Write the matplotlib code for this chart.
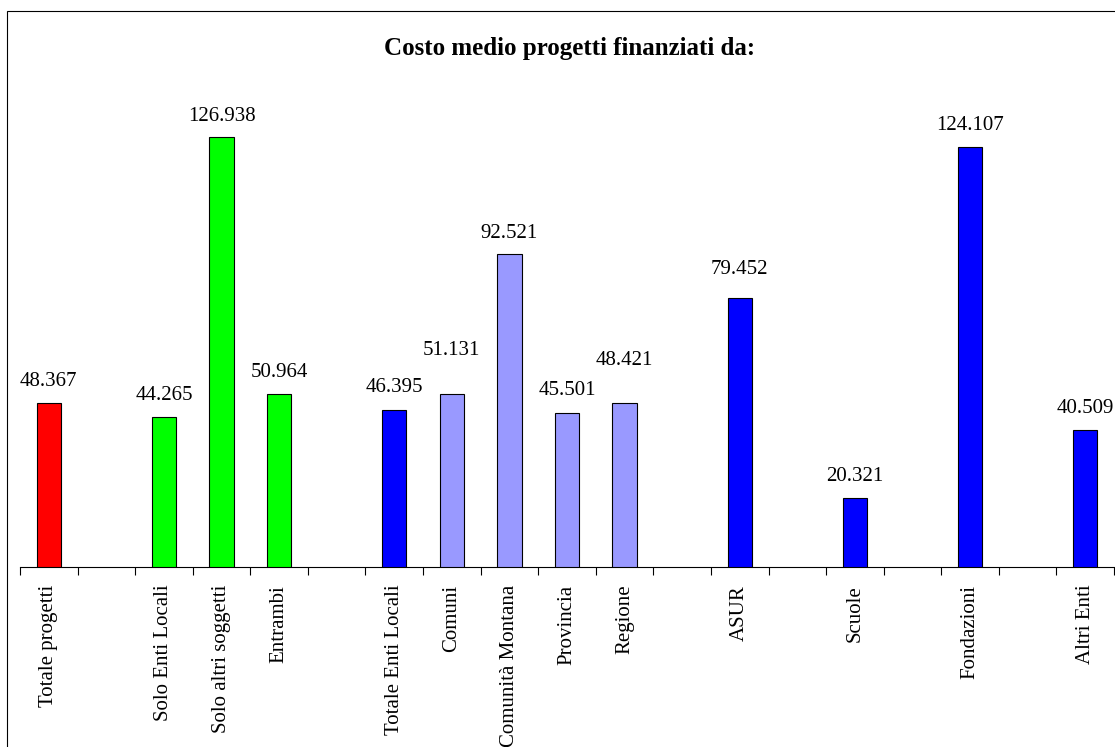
import matplotlib.pyplot as plt
from matplotlib.patches import Rectangle

plt.rcParams['font.family'] = ['Liberation Serif', 'DejaVu Serif']

# categorie (le stringhe vuote sono gli spazi tra i gruppi)
categories = ['Totale progetti', '', 'Solo Enti Locali', 'Solo altri soggetti', 'Entrambi', '',
              'Totale Enti Locali', 'Comuni', 'Comunità Montana', 'Provincia', 'Regione', '',
              'ASUR', '', 'Scuole', '', 'Fondazioni', '', 'Altri Enti']
costs = [48367, None, 44265, 126938, 50964, None,
         46395, 51131, 92521, 45501, 48421, None,
         79452, None, 20321, None, 124107, None, 40509]

# stile
bar_colors = ['#ff0000', None, '#00ff00', '#00ff00', '#00ff00', None,
              '#0000ff', '#9999ff', '#9999ff', '#9999ff', '#9999ff', None,
              '#0000ff', None, '#0000ff', None, '#0000ff', None, '#0000ff']
label_gap_px = [22, 0, 22, 21, 22, 0, 22, 43, 20, 22, 43, 0, 29, 0, 22, 0, 22, 0, 21]

W, H = 1115, 747
fig = plt.figure(figsize=(W / 100, H / 100), dpi=100)
ax = fig.add_axes([20 / W, 1 - 566.8 / H, 1094 / W, 473.5 / H])

for i, (c, col) in enumerate(zip(costs, bar_colors)):
    if c is None:
        continue
    ax.bar(i, c, width=0.42, color=col, edgecolor='black', linewidth=0.8, zorder=3)
    ax.annotate(f"{c:,}".replace(',', '.'), (i, c), xytext=(0, label_gap_px[i] * 0.72),
                textcoords='offset points', ha='center', va='center', fontsize=15)

ax.set_xlim(-0.5, len(categories) - 0.5)
ax.set_ylim(0, 140000)
ax.set_xticks(range(len(categories)))
ax.set_xticklabels(categories, rotation=90, fontsize=15, va='top')
ax.tick_params(axis='x', which='major', length=0, pad=13)
ax.set_xticks([k - 0.5 for k in range(len(categories) + 1)], minor=True)
ax.tick_params(axis='x', which='minor', length=6, width=0.8, direction='out')
ax.set_yticks([])
for s in ['left', 'right', 'top']:
    ax.spines[s].set_visible(False)
ax.spines['bottom'].set_linewidth(0.8)

fig.text(570 / W, 1 - 48 / H, 'Costo medio progetti finanziati da:', ha='center', va='center',
         fontsize=18, fontweight='bold')

fig.patches.append(Rectangle((7 / W, -0.1), 1.2, 1 - 10.7 / H + 0.1, transform=fig.transFigure,
                             fill=False, edgecolor='black', linewidth=0.8))

fig.savefig('out.png', dpi=100)
